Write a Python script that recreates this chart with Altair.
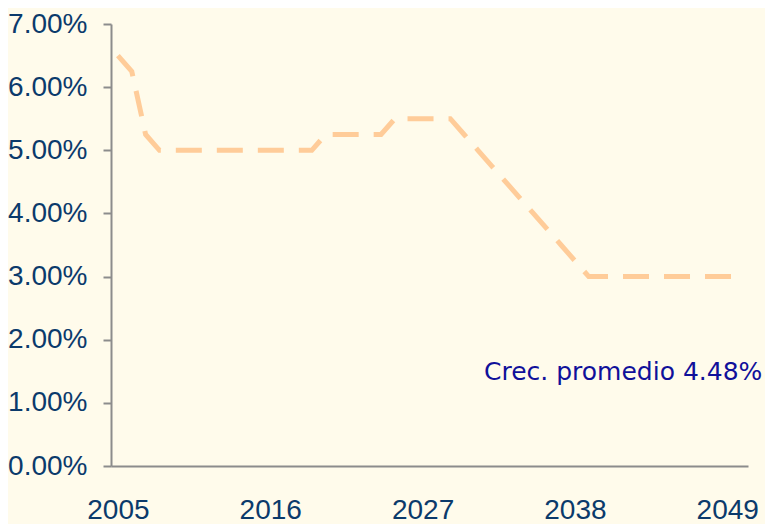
import altair as alt
import pandas as pd

years = list(range(2005, 2051))
growth = [
    6.50, 6.25, 5.25,
    5.00, 5.00, 5.00, 5.00, 5.00, 5.00, 5.00, 5.00, 5.00, 5.00, 5.00, 5.00,
    5.25, 5.25, 5.25, 5.25, 5.25,
    5.50, 5.50, 5.50, 5.50, 5.50,
    5.25, 5.00, 4.75, 4.50, 4.25, 4.00, 3.75, 3.50, 3.25,
    3.00, 3.00, 3.00, 3.00, 3.00, 3.00, 3.00, 3.00, 3.00, 3.00, 3.00, 3.00,
]
x_labels = [2005, 2016, 2027, 2038, 2049]
y_ticks = [0, 0.01, 0.02, 0.03, 0.04, 0.05, 0.06, 0.07]
note = "Crec. promedio 4.48%"

df = pd.DataFrame({"year": years, "rate": [g / 100 for g in growth]})

label_font = "Liberation Sans"

line = alt.Chart(df).mark_line(
    color="#FFCC99", strokeWidth=5, strokeDash=[26, 15], strokeCap="butt"
).encode(
    x=alt.X("year:O", scale=alt.Scale(type="point", padding=0.5),
            axis=alt.Axis(values=x_labels, ticks=False, labelAngle=0, title=None,
                          labelPadding=52, labelBaseline="alphabetic",
                          domainColor="#8C8C8C", domainWidth=2,
                          labelFont=label_font, labelFontSize=28,
                          labelColor="#0B3A6B")),
    y=alt.Y("rate:Q", scale=alt.Scale(domain=[0, 0.07]),
            axis=alt.Axis(values=y_ticks, format=".2%", title=None, grid=False,
                          tickSize=8, tickColor="#8C8C8C", tickWidth=2,
                          labelPadding=16, domainColor="#8C8C8C", domainWidth=2,
                          labelFont=label_font, labelFontSize=28,
                          labelColor="#0B3A6B")),
)

text = alt.Chart(pd.DataFrame({"t": [note]})).mark_text(
    align="left", baseline="middle", font="DejaVu Sans", fontSize=25, color="#10109A"
).encode(x=alt.value(373), y=alt.value(348), text="t:N")

chart = (line + text).properties(
    width=637, height=442, background="#FFFBEB",
    padding={"left": 103, "top": 16, "right": 17, "bottom": 58},
    autosize=alt.AutoSizeParams(type="none"),
).configure_view(stroke=None)

chart.save("out.html", embed_options={"renderer": "svg", "actions": False})
